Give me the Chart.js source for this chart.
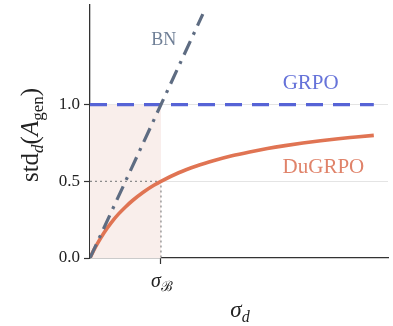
<!DOCTYPE html>
<html><head><meta charset="utf-8">
<script src="https://cdn.jsdelivr.net/npm/chart.js@4.4.1/dist/chart.umd.min.js"></script>
<style>html,body{margin:0;padding:0;background:#fff}#wrap{width:393px;height:326px}</style>
</head><body><div id="wrap"><canvas id="c" width="393" height="326"></canvas></div>
<script>
// ---- data ----
const yTicks = [0, 0.5, 1.0];
const xTicks = [1];               // sigma_B
const bnX = [0, 1.59];
const bnY = [0, 1.59];
const grpoX = [0, 4.0];
const grpoY = [1.0, 1.0];
const dugrpoX = [0, 0.05, 0.1, 0.2, 0.3, 0.4, 0.5, 0.6, 0.75, 0.9, 1.0, 1.25, 1.5, 1.75, 2.0, 2.25, 2.5, 2.75, 3.0, 3.25, 3.5, 3.75, 4.0];
const dugrpoY = [0, 0.048, 0.091, 0.167, 0.231, 0.286, 0.333, 0.375, 0.429, 0.474, 0.50, 0.556, 0.60, 0.636, 0.667, 0.692, 0.714, 0.733, 0.75, 0.765, 0.778, 0.789, 0.80];
const shadeX = [0, 1.0];
const shadeY = [1.0, 1.0];
const refX = [0, 1.0, 1.0];
const refY = [0.5, 0.5, 0];

const pts = (xs, ys) => xs.map((x, i) => ({x, y: ys[i]}));
const SERIF = '"Liberation Serif","DejaVu Serif",serif';

function drawRuns(ctx, runs, cx, cy) {
  let total = 0;
  runs.forEach(r => { ctx.font = r.font; r.w = ctx.measureText(r.t).width; total += r.w; });
  let x = cx - total / 2;
  runs.forEach(r => {
    ctx.font = r.font; ctx.fillStyle = r.color || '#222';
    ctx.textAlign = 'left'; ctx.textBaseline = 'alphabetic';
    ctx.fillText(r.t, x, cy + (r.dy || 0));
    x += r.w;
  });
}

const textPlugin = {
  id: 'texts',
  afterDraw(chart) {
    const ctx = chart.ctx, xs = chart.scales.x, ys = chart.scales.y;
    ctx.save();
    const labels = [
      {t: 'BN', x: 1.04, y: 1.39, size: 18, color: '#6f7f96'},
      {t: 'GRPO', x: 3.11, y: 1.10, size: 21, color: '#6673d9'},
      {t: 'DuGRPO', x: 3.29, y: 0.555, size: 21, color: '#e0836a'}
    ];
    labels.forEach(l => {
      drawRuns(ctx, [{t: l.t, font: `${l.size}px ${SERIF}`, color: l.color}], xs.getPixelForValue(l.x), ys.getPixelForValue(l.y));
    });
    const tx = xs.getPixelForValue(xTicks[0]);
    drawRuns(ctx, [
      {t: 'σ', font: `italic 20px ${SERIF}`},
      {t: 'ℬ', font: `14px ${SERIF}`, dy: 4}
    ], tx + 1, ys.bottom + 29);
    drawRuns(ctx, [
      {t: 'σ', font: `italic 23px ${SERIF}`},
      {t: 'd', font: `italic 16px ${SERIF}`, dy: 5}
    ], (xs.left + xs.right) / 2 + 1, 317);
    ctx.save();
    ctx.translate(38, 135);
    ctx.rotate(-Math.PI / 2);
    drawRuns(ctx, [
      {t: 'std', font: `25px ${SERIF}`},
      {t: 'd', font: `italic 17px ${SERIF}`, dy: 5},
      {t: '(', font: `25px ${SERIF}`},
      {t: 'A', font: `italic 25px ${SERIF}`},
      {t: 'gen', font: `17px ${SERIF}`, dy: 5},
      {t: ')', font: `25px ${SERIF}`}
    ], 0, 0);
    ctx.restore();
    ctx.restore();
  }
};

new Chart(document.getElementById('c'), {
  type: 'line',
  data: {
    datasets: [
      {label: 'BN', data: pts(bnX, bnY), borderColor: '#5e6c82', borderWidth: 3.2,
       borderDash: [15, 7, 3, 7], pointRadius: 0, fill: false, order: 1},
      {label: 'GRPO', data: pts(grpoX, grpoY), borderColor: '#5663d6', borderWidth: 3.2,
       borderDash: [17, 10], pointRadius: 0, fill: false, order: 2},
      {label: 'DuGRPO', data: pts(dugrpoX, dugrpoY), borderColor: '#e07453', borderWidth: 3.6,
       cubicInterpolationMode: 'monotone', pointRadius: 0, fill: false, order: 3},
      {label: 'ref', data: pts(refX, refY), borderColor: '#8c8c8c', borderWidth: 1.3,
       borderDash: [2, 3], pointRadius: 0, fill: false, order: 4},
      {label: 'shade', data: pts(shadeX, shadeY), borderWidth: 0, borderColor: 'rgba(0,0,0,0)',
       backgroundColor: '#f9eeeb', pointRadius: 0, fill: 'origin', order: 5}
    ]
  },
  options: {
    responsive: false, animation: false,
    layout: {padding: {top: 5, right: 5, left: 0, bottom: 0}},
    plugins: {legend: {display: false}, tooltip: {enabled: false}},
    scales: {
      x: {
        type: 'linear', min: 0, max: 4.2,
        afterBuildTicks: s => { s.ticks = xTicks.map(v => ({value: v})); },
        afterFit: s => { s.height = 68; s.paddingLeft = 0; s.paddingRight = 0; },
        ticks: {callback: () => '', padding: 2},
        grid: {drawOnChartArea: false, drawTicks: true, tickLength: 6, tickColor: '#333', tickWidth: 1.2},
        border: {color: '#333', width: 1.3}
      },
      y: {
        type: 'linear', min: 0, max: 1.65,
        afterBuildTicks: s => { s.ticks = yTicks.map(v => ({value: v})); },
        afterFit: s => { s.width = 90; s.paddingTop = 0; s.paddingBottom = 0; },
        ticks: {callback: v => v.toFixed(1), color: '#222', padding: 4,
                font: {family: SERIF, size: 17}},
        grid: {color: c => (c.tick && c.tick.value === 0) ? 'rgba(0,0,0,0)' : '#e4e4e4',
               lineWidth: 1, drawTicks: true, tickLength: 6, tickColor: '#333', tickWidth: 1.2},
        border: {color: '#333', width: 1.3}
      }
    }
  },
  plugins: [textPlugin]
});
</script></body></html>
